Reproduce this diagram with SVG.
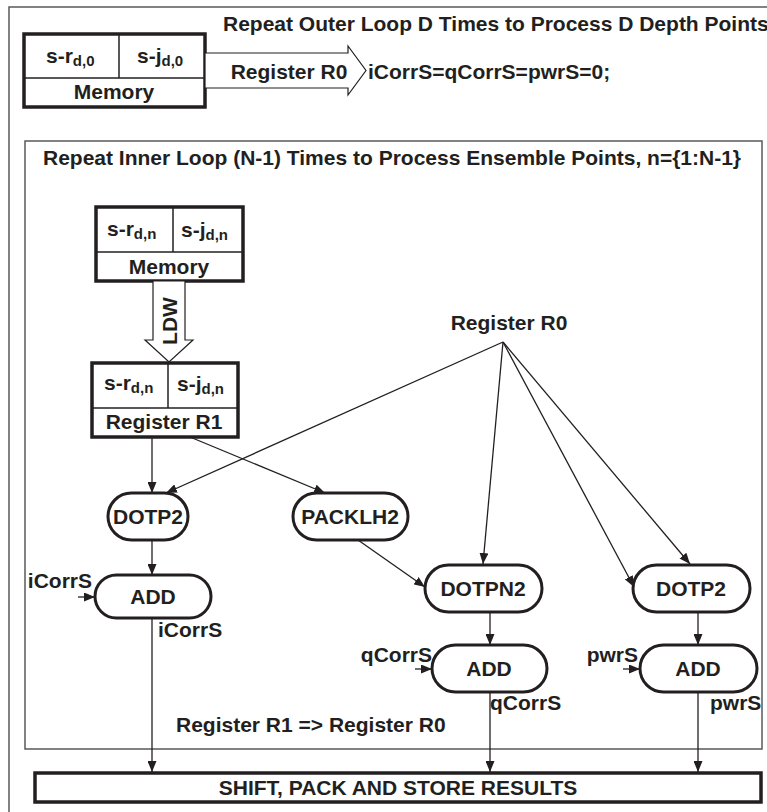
<svg xmlns="http://www.w3.org/2000/svg" width="767" height="812" viewBox="0 0 767 812">
  <defs>
    <marker id="arr" markerUnits="userSpaceOnUse" markerWidth="11" markerHeight="9" refX="11" refY="4.5" orient="auto">
      <path d="M0,0 L11,4.5 L0,9 Z" fill="#231f20"/>
    </marker>
    <style>
      text { font-family: "Liberation Sans", Arial, sans-serif; font-weight: bold; fill: #231f20; font-size: 21px; }
      .mid { text-anchor: middle; }
      .end { text-anchor: end; }
      .sub { font-size: 15px; }
      .frame { fill: none; stroke: #58595b; stroke-width: 1.5; }
      .box { fill: #fff; stroke: #231f20; stroke-width: 3.5; }
      .cell { fill: none; stroke: #231f20; stroke-width: 1.5; }
      .pill { fill: #fff; stroke: #231f20; stroke-width: 3; }
      .fat { fill: #fff; stroke: #231f20; stroke-width: 1.2; }
      .wire { fill: none; stroke: #231f20; stroke-width: 1.3; marker-end: url(#arr); }
    </style>
  </defs>
  <rect width="767" height="812" fill="#fff"/>

  <!-- loop frames -->
  <rect class="frame" x="9" y="7" width="780" height="820"/>
  <rect class="frame" x="25" y="141" width="737" height="608"/>

  <text x="223" y="31">Repeat Outer Loop D Times to Process D Depth Points</text>
  <text x="43" y="165">Repeat Inner Loop (N-1) Times to Process Ensemble Points, n={1:N-1}</text>

  <!-- initial memory -->
  <g id="memory0">
    <rect class="box" x="24" y="34" width="181" height="73"/>
    <line class="cell" x1="24" y1="78" x2="205" y2="78"/>
    <line class="cell" x1="119" y1="34" x2="119" y2="78"/>
    <text x="46" y="63">s-r<tspan class="sub" dy="3">d,0</tspan></text>
    <text x="137" y="63">s-j<tspan class="sub" dy="3">d,0</tspan></text>
    <text class="mid" x="114" y="99">Memory</text>
  </g>

  <!-- load into register R0 -->
  <g id="load-r0">
    <polygon class="fat" points="205,53 348,53 348,46 366,70.5 348,95 348,88 205,88"/>
    <text class="mid" x="289" y="79">Register R0</text>
  </g>
  <text x="368" y="79">iCorrS=qCorrS=pwrS=0;</text>

  <!-- per-point memory -->
  <g id="memory-n">
    <rect class="box" x="96" y="207" width="147" height="74"/>
    <line class="cell" x1="96" y1="252" x2="243" y2="252"/>
    <line class="cell" x1="173" y1="207" x2="173" y2="252"/>
    <text x="107" y="236">s-r<tspan class="sub" dy="3">d,n</tspan></text>
    <text x="181" y="237">s-j<tspan class="sub" dy="3">d,n</tspan></text>
    <text class="mid" x="169" y="274">Memory</text>
  </g>

  <!-- LDW transfer -->
  <g id="ldw">
    <polygon class="fat" points="153,281 185,281 185,340 193,340 169,362 145,340 153,340"/>
    <text class="mid" transform="translate(177,321) rotate(-90)">LDW</text>
  </g>

  <!-- register R1 -->
  <g id="register-r1">
    <rect class="box" x="92" y="363" width="146" height="74"/>
    <line class="cell" x1="92" y1="408" x2="238" y2="408"/>
    <line class="cell" x1="168" y1="363" x2="168" y2="408"/>
    <text x="104" y="390">s-r<tspan class="sub" dy="3">d,n</tspan></text>
    <text x="177" y="391">s-j<tspan class="sub" dy="3">d,n</tspan></text>
    <text class="mid" x="164" y="429">Register R1</text>
  </g>

  <g id="register-r0">
    <text class="mid" x="509" y="330">Register R0</text>
  </g>

  <!-- operations -->
  <g id="dotp2-i">
    <rect class="pill" x="108" y="493" width="80" height="47" rx="23.5"/>
    <text class="mid" x="148" y="524">DOTP2</text>
  </g>
  <g id="packlh2">
    <rect class="pill" x="293" y="493" width="115" height="47" rx="23.5"/>
    <text class="mid" x="350" y="524">PACKLH2</text>
  </g>
  <g id="add-i">
    <rect class="pill" x="95" y="575" width="116" height="43" rx="21.5"/>
    <text class="mid" x="153" y="604">ADD</text>
  </g>
  <g id="dotpn2">
    <rect class="pill" x="425" y="565" width="117" height="47" rx="23.5"/>
    <text class="mid" x="483" y="596">DOTPN2</text>
  </g>
  <g id="dotp2-p">
    <rect class="pill" x="633" y="565" width="117" height="47" rx="23.5"/>
    <text class="mid" x="691" y="596">DOTP2</text>
  </g>
  <g id="add-q">
    <rect class="pill" x="432" y="645" width="115" height="47" rx="23.5"/>
    <text class="mid" x="489" y="676">ADD</text>
  </g>
  <g id="add-p">
    <rect class="pill" x="640" y="645" width="117" height="47" rx="23.5"/>
    <text class="mid" x="698" y="676">ADD</text>
  </g>

  <g id="store">
    <rect class="box" x="35" y="773" width="726" height="29"/>
    <text class="mid" x="398" y="795">SHIFT, PACK AND STORE RESULTS</text>
  </g>

  <!-- accumulator labels -->
  <text class="end" x="92" y="588">iCorrS</text>
  <text x="158" y="637">iCorrS</text>
  <text class="end" x="432" y="662">qCorrS</text>
  <text x="490" y="710">qCorrS</text>
  <text class="end" x="638" y="662">pwrS</text>
  <text x="710" y="710">pwrS</text>
  <text x="176" y="732">Register R1 =&gt; Register R0</text>

  <!-- data flow -->
  <g id="connectors">
    <line class="wire" x1="152" y1="437" x2="152" y2="493"/>
    <line class="wire" x1="190" y1="437" x2="325" y2="493"/>
    <line class="wire" x1="503" y1="342" x2="166" y2="493"/>
    <line class="wire" x1="503" y1="342" x2="483" y2="564"/>
    <line class="wire" x1="503" y1="342" x2="634" y2="587"/>
    <line class="wire" x1="503" y1="342" x2="690" y2="564"/>
    <line class="wire" x1="358" y1="540" x2="425" y2="587"/>
    <line class="wire" x1="152" y1="540" x2="152" y2="575"/>
    <line class="wire" x1="490" y1="612" x2="490" y2="645"/>
    <line class="wire" x1="698" y1="612" x2="698" y2="645"/>
    <line class="wire" x1="78" y1="597" x2="95" y2="597"/>
    <line class="wire" x1="415" y1="669" x2="432" y2="669"/>
    <line class="wire" x1="623" y1="669" x2="640" y2="669"/>
    <line class="wire" x1="152" y1="618" x2="152" y2="772"/>
    <line class="wire" x1="490" y1="692" x2="490" y2="772"/>
    <line class="wire" x1="698" y1="692" x2="698" y2="772"/>
  </g>
</svg>
